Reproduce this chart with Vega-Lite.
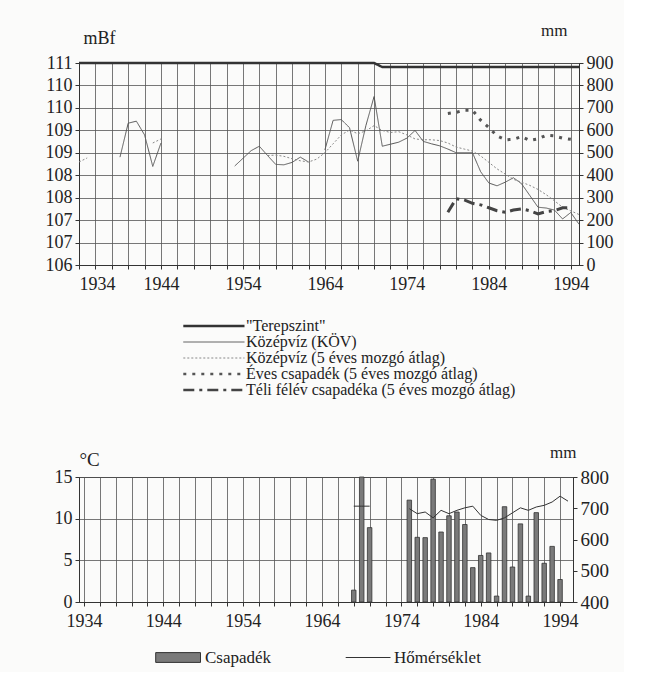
{
  "$schema": "https://vega.github.io/schema/vega-lite/v6.json",
  "background": "#fbfbfa",
  "padding": {"left": 44, "top": 20, "right": 10, "bottom": 5},
  "spacing": 43,
  "config": {
    "font": "Liberation Serif",
    "view": {"stroke": "#333", "strokeWidth": 1},
    "axis": {"labelFont": "Liberation Serif", "labelFontSize": 18, "labelColor": "#222", "titleFont": "Liberation Serif", "titleColor": "#222", "titleFontWeight": "normal", "titleFontSize": 17, "domainColor": "#333", "tickColor": "#333", "gridColor": "#555", "gridWidth": 0.8, "gridOpacity": 1, "tickSize": 4, "labelPadding": 3},
    "legend": {"labelFont": "Liberation Serif", "labelFontSize": 17, "labelColor": "#222", "labelLimit": 400, "padding": 0}
  },
  "datasets": {
    "level": [
      {"series": "\"Terepszint\"", "seg": "t", "year": 1934, "value": 111},
      {"series": "\"Terepszint\"", "seg": "t", "year": 1970, "value": 111},
      {"series": "\"Terepszint\"", "seg": "t", "year": 1971, "value": 110.9},
      {"series": "\"Terepszint\"", "seg": "t", "year": 1995, "value": 110.9},
      {"series": "Középvíz (KÖV)", "seg": "k1", "year": 1939, "value": 108.67},
      {"series": "Középvíz (KÖV)", "seg": "k1", "year": 1940, "value": 109.51},
      {"series": "Középvíz (KÖV)", "seg": "k1", "year": 1941, "value": 109.56},
      {"series": "Középvíz (KÖV)", "seg": "k1", "year": 1942, "value": 109.22},
      {"series": "Középvíz (KÖV)", "seg": "k1", "year": 1943, "value": 108.44},
      {"series": "Középvíz (KÖV)", "seg": "k1", "year": 1944, "value": 109.02},
      {"series": "Középvíz (KÖV)", "seg": "k2", "year": 1953, "value": 108.45},
      {"series": "Középvíz (KÖV)", "seg": "k2", "year": 1954, "value": 108.64},
      {"series": "Középvíz (KÖV)", "seg": "k2", "year": 1955, "value": 108.83},
      {"series": "Középvíz (KÖV)", "seg": "k2", "year": 1956, "value": 108.94},
      {"series": "Középvíz (KÖV)", "seg": "k2", "year": 1957, "value": 108.71},
      {"series": "Középvíz (KÖV)", "seg": "k2", "year": 1958, "value": 108.49},
      {"series": "Középvíz (KÖV)", "seg": "k2", "year": 1959, "value": 108.48},
      {"series": "Középvíz (KÖV)", "seg": "k2", "year": 1960, "value": 108.54},
      {"series": "Középvíz (KÖV)", "seg": "k2", "year": 1961, "value": 108.67},
      {"series": "Középvíz (KÖV)", "seg": "k2", "year": 1962, "value": 108.55},
      {"series": "Középvíz (KÖV)", "seg": "k3", "year": 1964, "value": 108.85},
      {"series": "Középvíz (KÖV)", "seg": "k3", "year": 1965, "value": 109.58},
      {"series": "Középvíz (KÖV)", "seg": "k3", "year": 1966, "value": 109.6},
      {"series": "Középvíz (KÖV)", "seg": "k3", "year": 1967, "value": 109.4},
      {"series": "Középvíz (KÖV)", "seg": "k3", "year": 1968, "value": 108.57},
      {"series": "Középvíz (KÖV)", "seg": "k3", "year": 1969, "value": 109.45},
      {"series": "Középvíz (KÖV)", "seg": "k3", "year": 1970, "value": 110.17},
      {"series": "Középvíz (KÖV)", "seg": "k3", "year": 1971, "value": 108.94},
      {"series": "Középvíz (KÖV)", "seg": "k3", "year": 1972, "value": 108.99},
      {"series": "Középvíz (KÖV)", "seg": "k3", "year": 1973, "value": 109.04},
      {"series": "Középvíz (KÖV)", "seg": "k3", "year": 1974, "value": 109.14},
      {"series": "Középvíz (KÖV)", "seg": "k3", "year": 1975, "value": 109.33},
      {"series": "Középvíz (KÖV)", "seg": "k3", "year": 1976, "value": 109.06},
      {"series": "Középvíz (KÖV)", "seg": "k3", "year": 1977, "value": 109.0},
      {"series": "Középvíz (KÖV)", "seg": "k3", "year": 1978, "value": 108.95},
      {"series": "Középvíz (KÖV)", "seg": "k3", "year": 1979, "value": 108.87},
      {"series": "Középvíz (KÖV)", "seg": "k3", "year": 1980, "value": 108.78},
      {"series": "Középvíz (KÖV)", "seg": "k3", "year": 1981, "value": 108.78},
      {"series": "Középvíz (KÖV)", "seg": "k3", "year": 1982, "value": 108.78},
      {"series": "Középvíz (KÖV)", "seg": "k3", "year": 1983, "value": 108.31},
      {"series": "Középvíz (KÖV)", "seg": "k3", "year": 1984, "value": 108.03},
      {"series": "Középvíz (KÖV)", "seg": "k3", "year": 1985, "value": 107.96},
      {"series": "Középvíz (KÖV)", "seg": "k3", "year": 1986, "value": 108.05},
      {"series": "Középvíz (KÖV)", "seg": "k3", "year": 1987, "value": 108.16},
      {"series": "Középvíz (KÖV)", "seg": "k3", "year": 1988, "value": 108.01},
      {"series": "Középvíz (KÖV)", "seg": "k3", "year": 1989, "value": 107.72},
      {"series": "Középvíz (KÖV)", "seg": "k3", "year": 1990, "value": 107.43},
      {"series": "Középvíz (KÖV)", "seg": "k3", "year": 1991, "value": 107.41},
      {"series": "Középvíz (KÖV)", "seg": "k3", "year": 1992, "value": 107.36},
      {"series": "Középvíz (KÖV)", "seg": "k3", "year": 1993, "value": 107.14},
      {"series": "Középvíz (KÖV)", "seg": "k3", "year": 1994, "value": 107.3},
      {"series": "Középvíz (KÖV)", "seg": "k3", "year": 1995, "value": 107.01},
      {"series": "Középvíz (5 éves mozgó átlag)", "seg": "m1", "year": 1934, "value": 108.55},
      {"series": "Középvíz (5 éves mozgó átlag)", "seg": "m1", "year": 1935, "value": 108.65},
      {"series": "Középvíz (5 éves mozgó átlag)", "seg": "m2", "year": 1943, "value": 109.02},
      {"series": "Középvíz (5 éves mozgó átlag)", "seg": "m2", "year": 1944, "value": 109.12},
      {"series": "Középvíz (5 éves mozgó átlag)", "seg": "m3", "year": 1957, "value": 108.71},
      {"series": "Középvíz (5 éves mozgó átlag)", "seg": "m3", "year": 1958, "value": 108.72},
      {"series": "Középvíz (5 éves mozgó átlag)", "seg": "m3", "year": 1959, "value": 108.69},
      {"series": "Középvíz (5 éves mozgó átlag)", "seg": "m3", "year": 1960, "value": 108.63},
      {"series": "Középvíz (5 éves mozgó átlag)", "seg": "m3", "year": 1961, "value": 108.58},
      {"series": "Középvíz (5 éves mozgó átlag)", "seg": "m3", "year": 1962, "value": 108.55},
      {"series": "Középvíz (5 éves mozgó átlag)", "seg": "m3", "year": 1963, "value": 108.62},
      {"series": "Középvíz (5 éves mozgó átlag)", "seg": "m3", "year": 1964, "value": 108.78},
      {"series": "Középvíz (5 éves mozgó átlag)", "seg": "m3", "year": 1965, "value": 109.0},
      {"series": "Középvíz (5 éves mozgó átlag)", "seg": "m3", "year": 1966, "value": 109.22},
      {"series": "Középvíz (5 éves mozgó átlag)", "seg": "m3", "year": 1967, "value": 109.34},
      {"series": "Középvíz (5 éves mozgó átlag)", "seg": "m3", "year": 1968, "value": 109.25},
      {"series": "Középvíz (5 éves mozgó átlag)", "seg": "m3", "year": 1969, "value": 109.32},
      {"series": "Középvíz (5 éves mozgó átlag)", "seg": "m3", "year": 1970, "value": 109.45},
      {"series": "Középvíz (5 éves mozgó átlag)", "seg": "m3", "year": 1971, "value": 109.33},
      {"series": "Középvíz (5 éves mozgó átlag)", "seg": "m3", "year": 1972, "value": 109.28},
      {"series": "Középvíz (5 éves mozgó átlag)", "seg": "m3", "year": 1973, "value": 109.3},
      {"series": "Középvíz (5 éves mozgó átlag)", "seg": "m3", "year": 1974, "value": 109.22},
      {"series": "Középvíz (5 éves mozgó átlag)", "seg": "m3", "year": 1975, "value": 109.12},
      {"series": "Középvíz (5 éves mozgó átlag)", "seg": "m3", "year": 1976, "value": 109.1},
      {"series": "Középvíz (5 éves mozgó átlag)", "seg": "m3", "year": 1977, "value": 109.1},
      {"series": "Középvíz (5 éves mozgó átlag)", "seg": "m3", "year": 1978, "value": 109.08},
      {"series": "Középvíz (5 éves mozgó átlag)", "seg": "m3", "year": 1979, "value": 109.02},
      {"series": "Középvíz (5 éves mozgó átlag)", "seg": "m3", "year": 1980, "value": 108.92},
      {"series": "Középvíz (5 éves mozgó átlag)", "seg": "m3", "year": 1981, "value": 108.87},
      {"series": "Középvíz (5 éves mozgó átlag)", "seg": "m3", "year": 1982, "value": 108.82},
      {"series": "Középvíz (5 éves mozgó átlag)", "seg": "m3", "year": 1983, "value": 108.7},
      {"series": "Középvíz (5 éves mozgó átlag)", "seg": "m3", "year": 1984, "value": 108.54},
      {"series": "Középvíz (5 éves mozgó átlag)", "seg": "m3", "year": 1985, "value": 108.38},
      {"series": "Középvíz (5 éves mozgó átlag)", "seg": "m3", "year": 1986, "value": 108.25},
      {"series": "Középvíz (5 éves mozgó átlag)", "seg": "m3", "year": 1987, "value": 108.12},
      {"series": "Középvíz (5 éves mozgó átlag)", "seg": "m3", "year": 1988, "value": 108.05},
      {"series": "Középvíz (5 éves mozgó átlag)", "seg": "m3", "year": 1989, "value": 107.97},
      {"series": "Középvíz (5 éves mozgó átlag)", "seg": "m3", "year": 1990, "value": 107.87},
      {"series": "Középvíz (5 éves mozgó átlag)", "seg": "m3", "year": 1991, "value": 107.74},
      {"series": "Középvíz (5 éves mozgó átlag)", "seg": "m3", "year": 1992, "value": 107.59},
      {"series": "Középvíz (5 éves mozgó átlag)", "seg": "m3", "year": 1993, "value": 107.43},
      {"series": "Középvíz (5 éves mozgó átlag)", "seg": "m3", "year": 1994, "value": 107.34},
      {"series": "Középvíz (5 éves mozgó átlag)", "seg": "m3", "year": 1995, "value": 107.25}
    ],
    "precip": [
      {"series": "Éves csapadék (5 éves mozgó átlag)", "seg": "a", "year": 1979, "mm": 675},
      {"series": "Éves csapadék (5 éves mozgó átlag)", "seg": "a", "year": 1980, "mm": 680},
      {"series": "Éves csapadék (5 éves mozgó átlag)", "seg": "a", "year": 1981, "mm": 690},
      {"series": "Éves csapadék (5 éves mozgó átlag)", "seg": "a", "year": 1982, "mm": 690},
      {"series": "Éves csapadék (5 éves mozgó átlag)", "seg": "a", "year": 1983, "mm": 645},
      {"series": "Éves csapadék (5 éves mozgó átlag)", "seg": "a", "year": 1984, "mm": 612},
      {"series": "Éves csapadék (5 éves mozgó átlag)", "seg": "a", "year": 1985, "mm": 575},
      {"series": "Éves csapadék (5 éves mozgó átlag)", "seg": "a", "year": 1986, "mm": 558},
      {"series": "Éves csapadék (5 éves mozgó átlag)", "seg": "a", "year": 1987, "mm": 560},
      {"series": "Éves csapadék (5 éves mozgó átlag)", "seg": "a", "year": 1988, "mm": 572},
      {"series": "Éves csapadék (5 éves mozgó átlag)", "seg": "a", "year": 1989, "mm": 555},
      {"series": "Éves csapadék (5 éves mozgó átlag)", "seg": "a", "year": 1990, "mm": 562},
      {"series": "Éves csapadék (5 éves mozgó átlag)", "seg": "a", "year": 1991, "mm": 578},
      {"series": "Éves csapadék (5 éves mozgó átlag)", "seg": "a", "year": 1992, "mm": 575},
      {"series": "Éves csapadék (5 éves mozgó átlag)", "seg": "a", "year": 1993, "mm": 565},
      {"series": "Éves csapadék (5 éves mozgó átlag)", "seg": "a", "year": 1994, "mm": 560},
      {"series": "Téli félév csapadéka (5 éves mozgó átlag)", "seg": "w", "year": 1979, "mm": 235},
      {"series": "Téli félév csapadéka (5 éves mozgó átlag)", "seg": "w", "year": 1980, "mm": 295},
      {"series": "Téli félév csapadéka (5 éves mozgó átlag)", "seg": "w", "year": 1981, "mm": 290},
      {"series": "Téli félév csapadéka (5 éves mozgó átlag)", "seg": "w", "year": 1982, "mm": 275},
      {"series": "Téli félév csapadéka (5 éves mozgó átlag)", "seg": "w", "year": 1983, "mm": 268},
      {"series": "Téli félév csapadéka (5 éves mozgó átlag)", "seg": "w", "year": 1984, "mm": 255},
      {"series": "Téli félév csapadéka (5 éves mozgó átlag)", "seg": "w", "year": 1985, "mm": 242},
      {"series": "Téli félév csapadéka (5 éves mozgó átlag)", "seg": "w", "year": 1986, "mm": 235},
      {"series": "Téli félév csapadéka (5 éves mozgó átlag)", "seg": "w", "year": 1987, "mm": 245},
      {"series": "Téli félév csapadéka (5 éves mozgó átlag)", "seg": "w", "year": 1988, "mm": 250},
      {"series": "Téli félév csapadéka (5 éves mozgó átlag)", "seg": "w", "year": 1989, "mm": 242},
      {"series": "Téli félév csapadéka (5 éves mozgó átlag)", "seg": "w", "year": 1990, "mm": 228},
      {"series": "Téli félév csapadéka (5 éves mozgó átlag)", "seg": "w", "year": 1991, "mm": 238},
      {"series": "Téli félév csapadéka (5 éves mozgó átlag)", "seg": "w", "year": 1992, "mm": 242},
      {"series": "Téli félév csapadéka (5 éves mozgó átlag)", "seg": "w", "year": 1993, "mm": 255},
      {"series": "Téli félév csapadéka (5 éves mozgó átlag)", "seg": "w", "year": 1994, "mm": 255}
    ],
    "rain": [
      {"year": 1968, "mm": 438}, {"year": 1969, "mm": 800}, {"year": 1970, "mm": 638},
      {"year": 1975, "mm": 726}, {"year": 1976, "mm": 607}, {"year": 1977, "mm": 606},
      {"year": 1978, "mm": 793}, {"year": 1979, "mm": 624}, {"year": 1980, "mm": 676},
      {"year": 1981, "mm": 688}, {"year": 1982, "mm": 648}, {"year": 1983, "mm": 510},
      {"year": 1984, "mm": 549}, {"year": 1985, "mm": 557}, {"year": 1986, "mm": 419},
      {"year": 1987, "mm": 705}, {"year": 1988, "mm": 512}, {"year": 1989, "mm": 650},
      {"year": 1990, "mm": 419}, {"year": 1991, "mm": 686}, {"year": 1992, "mm": 524},
      {"year": 1993, "mm": 578}, {"year": 1994, "mm": 472}
    ],
    "temp": [
      {"seg": "a", "year": 1968, "t": 11.5}, {"seg": "a", "year": 1969, "t": 11.5}, {"seg": "a", "year": 1970, "t": 11.5},
      {"seg": "b", "year": 1975, "t": 11.2}, {"seg": "b", "year": 1976, "t": 10.6}, {"seg": "b", "year": 1977, "t": 10.8},
      {"seg": "b", "year": 1978, "t": 10.1}, {"seg": "b", "year": 1979, "t": 11.0}, {"seg": "b", "year": 1980, "t": 10.6},
      {"seg": "b", "year": 1981, "t": 11.0}, {"seg": "b", "year": 1982, "t": 11.3}, {"seg": "b", "year": 1983, "t": 11.5},
      {"seg": "b", "year": 1984, "t": 10.4}, {"seg": "b", "year": 1985, "t": 9.9}, {"seg": "b", "year": 1986, "t": 9.8},
      {"seg": "b", "year": 1987, "t": 10.1}, {"seg": "b", "year": 1988, "t": 10.7}, {"seg": "b", "year": 1989, "t": 11.3},
      {"seg": "b", "year": 1990, "t": 11.0}, {"seg": "b", "year": 1991, "t": 11.4}, {"seg": "b", "year": 1992, "t": 11.6},
      {"seg": "b", "year": 1993, "t": 12.0}, {"seg": "b", "year": 1994, "t": 12.7}, {"seg": "b", "year": 1995, "t": 12.1}
    ]
  },
  "vconcat": [
    {
      "width": 500,
      "height": 202,
      "encoding": {
        "x": {"field": "year", "type": "quantitative", "scale": {"domain": [1934, 1995], "nice": false, "zero": false},
              "axis": {"values": [1934,1936,1938,1940,1942,1944,1946,1948,1950,1952,1954,1956,1958,1960,1962,1964,1966,1968,1970,1972,1974,1976,1978,1980,1982,1984,1986,1988,1990,1992,1994],
                       "format": "d", "labelExpr": "(datum.value - 1934) % 10 == 0 ? datum.label : ''", "title": null, "grid": true, "labelPadding": 6}},
        "color": {"field": "series", "type": "nominal",
                  "scale": {"domain": ["\"Terepszint\"", "Középvíz (KÖV)", "Középvíz (5 éves mozgó átlag)", "Éves csapadék (5 éves mozgó átlag)", "Téli félév csapadéka (5 éves mozgó átlag)"],
                            "range": ["#333333", "#555555", "#888888", "#555555", "#444444"]},
                  "legend": {"orient": "none", "legendX": 149, "legendY": 255, "direction": "vertical", "symbolType": "M-6.2,0H1", "symbolSize": 289, "title": null, "rowPadding": 0, "labelOffset": 2, "labelFontSize": 16,
                             "encode": {"symbols": {"update": {"strokeWidth": {"signal": "datum.value == 'Középvíz (KÖV)' || datum.value == 'Középvíz (5 éves mozgó átlag)' ? 1 : 2.5"}}}}}},
        "strokeDash": {"field": "series", "type": "nominal",
                  "scale": {"domain": ["\"Terepszint\"", "Középvíz (KÖV)", "Középvíz (5 éves mozgó átlag)", "Éves csapadék (5 éves mozgó átlag)", "Téli félév csapadéka (5 éves mozgó átlag)"],
                            "range": [[1, 0], [1, 0], [2, 2], [3, 6], [11, 5, 3, 5]]},
                  "legend": {"orient": "none", "legendX": 149, "legendY": 255, "direction": "vertical", "symbolType": "M-6.2,0H1", "symbolSize": 289, "title": null, "rowPadding": 0, "labelOffset": 2, "labelFontSize": 16,
                             "encode": {"symbols": {"update": {"strokeWidth": {"signal": "datum.value == 'Középvíz (KÖV)' || datum.value == 'Középvíz (5 éves mozgó átlag)' ? 1 : 2.5"}}}}}},
        "detail": {"field": "seg", "type": "nominal"}
      },
      "layer": [
        {
          "data": {"name": "level"},
          "mark": {"type": "line"},
          "encoding": {
            "y": {"field": "value", "type": "quantitative", "scale": {"domain": [106, 111], "nice": false, "zero": false},
                  "axis": {"values": [106, 106.5556, 107.1111, 107.6667, 108.2222, 108.7778, 109.3333, 109.8889, 110.4444, 111],
                           "format": ".0f", "title": "mBf", "titleAngle": 0, "titleAlign": "left", "titleBaseline": "bottom", "titleX": 4, "titleY": -16, "titleFontSize": 18, "grid": true}},
            "strokeWidth": {"condition": {"test": "datum.series == 'Középvíz (KÖV)' || datum.series == 'Középvíz (5 éves mozgó átlag)'", "value": 1}, "value": 2.5}
          }
        },
        {
          "data": {"name": "precip"},
          "mark": {"type": "line", "strokeWidth": 3},
          "encoding": {
            "y": {"field": "mm", "type": "quantitative", "scale": {"domain": [0, 900], "nice": false, "zero": false},
                  "axis": {"orient": "right", "values": [0, 100, 200, 300, 400, 500, 600, 700, 800, 900], "title": "mm", "titleAngle": 0, "titleAlign": "right", "titleBaseline": "bottom", "titleX": -12, "titleY": -24, "grid": false}}
          }
        }
      ],
      "resolve": {"scale": {"y": "independent"}}
    },
    {
      "width": 494,
      "height": 125,
      "encoding": {
        "x": {"field": "year", "type": "quantitative", "scale": {"domain": [1934, 1995], "nice": false, "zero": false},
              "axis": {"values": [1934,1936,1938,1940,1942,1944,1946,1948,1950,1952,1954,1956,1958,1960,1962,1964,1966,1968,1970,1972,1974,1976,1978,1980,1982,1984,1986,1988,1990,1992,1994],
                       "format": "d", "labelExpr": "(datum.value - 1934) % 10 == 0 ? datum.label : ''", "title": null, "grid": true, "labelPadding": 6}}
      },
      "layer": [
        {
          "data": {"name": "rain"},
          "mark": {"type": "bar", "size": 4.5, "stroke": "#333333", "strokeWidth": 0.8},
          "encoding": {
            "y": {"field": "mm", "type": "quantitative", "scale": {"domain": [400, 800], "nice": false, "zero": false},
                  "axis": {"orient": "right", "values": [400, 500, 600, 700, 800], "title": "mm", "titleAngle": 0, "titleAlign": "right", "titleBaseline": "bottom", "titleX": 3, "titleY": -16, "grid": false, "labelFontSize": 19}},
            "y2": {"datum": 400},
            "fill": {"datum": "Csapadék", "scale": {"range": ["#7a7a7a"]},
                     "legend": {"orient": "none", "legendX": 106, "legendY": 172, "symbolType": "M-5.4,-0.7H1V0.7H-5.4Z", "symbolSize": 196, "symbolStrokeColor": "#333333", "symbolStrokeWidth": 1, "title": null, "labelOffset": 3}}
          }
        },
        {
          "data": {"name": "temp"},
          "mark": {"type": "line", "strokeWidth": 1},
          "encoding": {
            "y": {"field": "t", "type": "quantitative", "scale": {"domain": [0, 15], "nice": false, "zero": false},
                  "axis": {"orient": "left", "values": [0, 5, 10, 15], "title": "°C", "titleAngle": 0, "titleAlign": "left", "titleBaseline": "bottom", "titleX": 0, "titleY": -8, "titleFontSize": 19, "grid": true, "labelFontSize": 18}},
            "stroke": {"datum": "Hőmérséklet", "scale": {"range": ["#333333"]},
                       "legend": {"orient": "none", "legendX": 296, "legendY": 172, "symbolType": "M-5.4,0H1", "symbolSize": 196, "symbolStrokeWidth": 1, "title": null, "labelOffset": 2}},
            "detail": {"field": "seg", "type": "nominal"}
          }
        }
      ],
      "resolve": {"scale": {"y": "independent"}}
    }
  ],
  "resolve": {"scale": {"color": "independent", "strokeDash": "independent", "fill": "independent", "stroke": "independent"}, "legend": {"color": "independent", "strokeDash": "independent", "fill": "independent", "stroke": "independent"}}
}
